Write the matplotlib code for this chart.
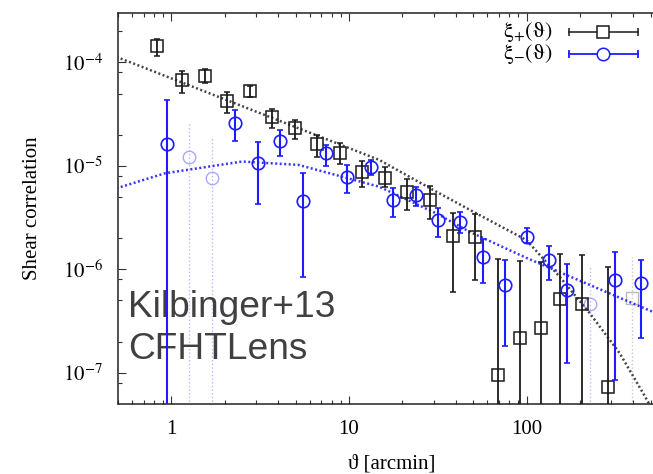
import numpy as np
import matplotlib
matplotlib.use('Agg')
import matplotlib.pyplot as plt
from matplotlib.ticker import FixedLocator, LogLocator, NullFormatter

plt.rcParams['font.family'] = ['Liberation Serif', 'DejaVu Serif']
plt.rcParams['mathtext.fontset'] = 'stix'

# xi_+ measurements (theta [arcmin], value, lower / upper end of error bar)
theta_p = [0.834, 1.14, 1.54, 2.05, 2.76, 3.69, 4.95, 6.62, 8.85, 11.9, 15.9,
           21.3, 28.6, 38.3, 51.3, 68.9, 92.0, 120, 154, 204, 286]
xi_p = [1.44e-4, 6.75e-5, 7.37e-5, 4.23e-5, 5.32e-5, 2.94e-5, 2.30e-5, 1.62e-5,
        1.34e-5, 8.65e-6, 7.57e-6, 5.62e-6, 4.67e-6, 2.10e-6, 2.07e-6, 9.5e-8,
        2.15e-7, 2.69e-7, 5.16e-7, 4.59e-7, 7.3e-8]
xi_p_lo = [1.15e-4, 5.05e-5, 6.31e-5, 3.21e-5, 4.65e-5, 2.32e-5, 1.82e-5, 1.22e-5,
           1.04e-5, 6.24e-6, 6.28e-6, 3.74e-6, 3.06e-6, 6.07e-7, 7.88e-7, 1e-9,
           1e-9, 1e-9, 1e-9, 1e-9, 1e-9]
xi_p_hi = [1.68e-4, 8.24e-5, 8.62e-5, 5.20e-5, 5.90e-5, 3.54e-5, 2.77e-5, 1.98e-5,
           1.66e-5, 1.11e-5, 9.80e-6, 7.46e-6, 6.38e-6, 3.52e-6, 3.42e-6, 1.25e-6,
           1.20e-6, 1.18e-6, 1.41e-6, 1.37e-6, 1.06e-6]

# xi_- measurements
theta_m = [0.949, 2.27, 3.06, 4.07, 5.50, 7.39, 9.78, 13.3, 17.6, 23.8, 31.6,
           42.4, 56.6, 76.1, 101, 133, 170, 314, 439]
xi_m = [1.62e-5, 2.61e-5, 1.07e-5, 1.75e-5, 4.62e-6, 1.32e-5, 7.79e-6, 9.80e-6,
        4.67e-6, 5.22e-6, 2.99e-6, 2.88e-6, 1.32e-6, 7.05e-7, 2.07e-6, 1.23e-6,
        6.31e-7, 7.88e-7, 7.32e-7]
xi_m_lo = [1e-9, 1.75e-5, 4.25e-6, 1.24e-5, 8.48e-7, 1.00e-5, 5.50e-6, 8.15e-6,
           3.22e-6, 4.09e-6, 2.07e-6, 2.23e-6, 7.32e-7, 1.83e-7, 1.78e-6, 7.88e-7,
           1.25e-7, 8.5e-8, 2.15e-7]
xi_m_hi = [4.32e-5, 3.46e-5, 1.71e-5, 2.22e-5, 8.46e-6, 1.59e-5, 1.02e-5, 1.14e-5,
           6.06e-6, 6.24e-6, 3.91e-6, 3.60e-6, 1.95e-6, 1.23e-6, 2.49e-6, 1.69e-6,
           1.13e-6, 1.48e-6, 1.23e-6]

# points excluded from the analysis (drawn faint)
theta_p_faint = [395]
xi_p_faint = [5.25e-7]
xi_p_faint_hi = [1.32e-6]
theta_m_faint = [1.26, 1.69, 229]
xi_m_faint = [1.22e-5, 7.57e-6, 4.62e-7]
xi_m_faint_hi = [2.67e-5, 1.91e-5, 1.06e-6]

# model predictions
theta_model_p = [0.49, 1.0, 3.0, 14.8, 30.0, 52.0, 99.6, 153.6, 227, 335, 452, 520]
model_p = [1.13e-4, 7.0e-5, 3.34e-5, 1.14e-5, 5.8e-6, 3.48e-6, 1.92e-6, 8.47e-7,
           3.76e-7, 1.54e-7, 6.4e-8, 4.2e-8]
theta_model_m = [0.49, 0.92, 2.5, 5.2, 14.8, 30.9, 47.6, 99.6, 515, 600]
model_m = [6.06e-6, 8.47e-6, 1.10e-5, 1.02e-5, 6.28e-6, 3.48e-6, 2.31e-6, 1.29e-6,
           3.87e-7, 3.5e-7]

black = '#1a1a1a'
blue = '#1c1cff'


def yerr(y, lo, hi):
    y = np.array(y)
    return [y - np.array(lo), np.array(hi) - y]


fig = plt.figure(figsize=(6.53, 4.74), dpi=100)
ax = fig.add_axes([118 / 653, 1 - 403.5 / 474, 546.7 / 653, 390.5 / 474])
ax.set_xscale('log')
ax.set_yscale('log')

# model curves
ax.plot(theta_model_p, model_p, color='#444444', lw=1.8, ls=(0, (0.8, 1.0)), zorder=2)
ax.plot(theta_model_m, model_m, color='#3535ff', lw=1.8, ls=(0, (0.8, 1.0)), zorder=2)

# faint points
eb = ax.errorbar(theta_p_faint, xi_p_faint,
                 yerr=yerr(xi_p_faint, [1e-9] * len(xi_p_faint), xi_p_faint_hi),
                 fmt='s', ms=9, mfc='none', mec='#b8b8b8', ecolor='#c8c8c8',
                 elinewidth=1.0, capsize=0, zorder=1)
eb[2][0].set_linestyle(':')
eb = ax.errorbar(theta_m_faint, xi_m_faint,
                 yerr=yerr(xi_m_faint, [1e-9] * len(xi_m_faint), xi_m_faint_hi),
                 fmt='o', ms=9, mfc='none', mec='#a8a8ff', ecolor='#b8b8ff',
                 elinewidth=1.0, capsize=0, zorder=1)
eb[2][0].set_linestyle(':')

# measurements
ax.errorbar(theta_p, xi_p, yerr=yerr(xi_p, xi_p_lo, xi_p_hi), fmt='s', ms=9,
            mfc='none', mec=black, mew=1.1, ecolor=black, elinewidth=1.3,
            capsize=2.5, capthick=1.3, zorder=3)
ax.errorbar(theta_m, xi_m, yerr=yerr(xi_m, xi_m_lo, xi_m_hi), fmt='o', ms=9,
            mfc='none', mec=blue, mew=1.2, ecolor=blue, elinewidth=1.5,
            capsize=2.5, capthick=1.5, zorder=4)

ax.set_xlim(0.5, 600)
ax.set_ylim(5.04e-8, 3.0e-4)

ax.xaxis.set_major_locator(FixedLocator([1, 10, 100]))
ax.set_xticklabels(['1', '10', '100'])
ax.xaxis.set_minor_locator(LogLocator(base=10, subs=np.arange(2, 10)))
ax.xaxis.set_minor_formatter(NullFormatter())
ax.yaxis.set_major_locator(FixedLocator([1e-7, 1e-6, 1e-5, 1e-4]))
ax.set_yticklabels([r'$10^{-7}$', r'$10^{-6}$', r'$10^{-5}$', r'$10^{-4}$'])
ax.yaxis.set_minor_locator(LogLocator(base=10, subs=(2, 5, 8)))
ax.yaxis.set_minor_formatter(NullFormatter())

ax.tick_params(which='both', direction='in', top=True, right=False, width=0.8,
               labelsize=15, color='#333333')
ax.tick_params(which='major', length=6)
ax.tick_params(which='minor', length=3)
ax.tick_params(axis='x', pad=12)
ax.tick_params(axis='y', pad=11)
for s in ax.spines.values():
    s.set_linewidth(1.1)
    s.set_color('#222222')

ax.set_xlabel('\u03d1 [arcmin]', fontsize=15, va='center')
ax.xaxis.set_label_coords(0.5, -0.155)
ax.set_ylabel('Shear correlation', fontsize=15, va='center')
ax.yaxis.set_label_coords(-0.1555, 0.5)

# legend, drawn by hand in gnuplot style
legend = [(r'$\mathrm{\xi}_{+}(\mathrm{\vartheta})$', 's', black, 0.952, 1.1),
          (r'$\mathrm{\xi}_{-}(\mathrm{\vartheta})$', 'o', blue, 0.895, 1.3)]
for label, mk, col, ly, lw in legend:
    ax.plot([0.825, 0.951], [ly, ly], color=col, lw=lw, marker='|', ms=6,
            mew=lw, transform=ax.transAxes, clip_on=False, zorder=5)
    ax.plot([0.888], [ly], marker=mk, ms=9, mfc='white', mec=col, mew=1.1,
            transform=ax.transAxes, clip_on=False, zorder=6)
    ax.text(0.796, ly, label, ha='right', va='center', fontsize=16,
            transform=ax.transAxes)

ax.text(0.018, 0.2223, 'Kilbinger+13', fontsize=26.7, color='#404040',
        family='Liberation Sans', va='baseline', transform=ax.transAxes)
ax.text(0.018, 0.1132, 'CFHTLens', fontsize=26.7, color='#404040',
        family='Liberation Sans', va='baseline', transform=ax.transAxes)

fig.savefig('out.png', dpi=100)
